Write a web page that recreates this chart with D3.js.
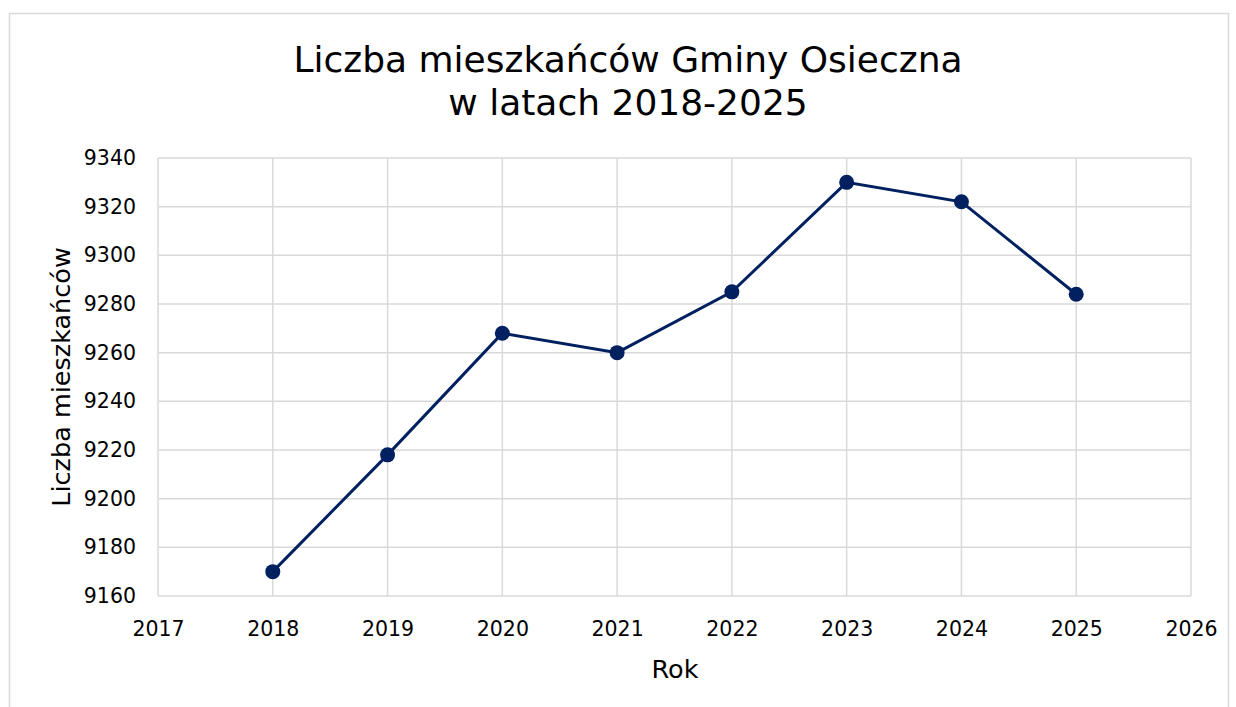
<!DOCTYPE html>
<html>
<head>
<meta charset="utf-8">
<script src="https://cdn.jsdelivr.net/npm/d3@7"></script>
<style>
body{margin:0;background:#fff}
text{font-family:"DejaVu Sans",sans-serif;fill:#000}
</style>
</head>
<body>
<div id="chart"></div>
<script>
var years=[2018,2019,2020,2021,2022,2023,2024,2025]
var people=[9170,9218,9268,9260,9285,9330,9322,9284]
var xTicks=[2017,2018,2019,2020,2021,2022,2023,2024,2025,2026]
var yTicks=[9160,9180,9200,9220,9240,9260,9280,9300,9320,9340]
var titleLines=["Liczba mieszkańców Gminy Osieczna","w latach 2018-2025"]

var width=1236,height=707
var margin={top:158,left:158,right:45,bottom:111}

var svg=d3.select("#chart").append("svg")
	.attr("width",width)
	.attr("height",height)

// ramka wykresu
svg.append("rect")
	.attr("x",9.5).attr("y",13.5)
	.attr("width",1219).attr("height",720)
	.attr("fill","#fff")
	.attr("stroke","#d9d9d9")
	.attr("stroke-width",1.5)

var x=d3.scaleLinear().domain([2017,2026]).range([margin.left,width-margin.right])
var y=d3.scaleLinear().domain([9160,9340]).range([height-margin.bottom,margin.top])

var grid=svg.append("g")
grid.selectAll(".gx").data(xTicks).enter().append("line")
	.attr("x1",function(d){return x(d)}).attr("x2",function(d){return x(d)})
	.attr("y1",y(9160)).attr("y2",y(9340))
	.attr("stroke","#d9d9d9").attr("stroke-width",1.5)
grid.selectAll(".gy").data(yTicks).enter().append("line")
	.attr("x1",x(2017)).attr("x2",x(2026))
	.attr("y1",function(d){return y(d)}).attr("y2",function(d){return y(d)})
	.attr("stroke","#d9d9d9").attr("stroke-width",1.5)

var xAxis=svg.append("g")
	.attr("transform","translate(0,"+y(9160)+")")
	.call(d3.axisBottom(x).tickValues(xTicks).tickFormat(d3.format("d")).tickSize(0).tickPadding(25))
xAxis.select(".domain").remove()
xAxis.selectAll("text").attr("font-size","20.5px").attr("fill","#000")
	.style("font-family","DejaVu Sans")

var yAxis=svg.append("g")
	.attr("transform","translate("+x(2017)+",0)")
	.call(d3.axisLeft(y).tickValues(yTicks).tickFormat(d3.format("d")).tickSize(0).tickPadding(22))
yAxis.select(".domain").remove()
yAxis.selectAll("text").attr("font-size","20.5px").attr("fill","#000")
	.style("font-family","DejaVu Sans")

var line=d3.line()
	.x(function(d,i){return x(years[i])})
	.y(function(d){return y(d)})

svg.append("path")
	.datum(people)
	.attr("d",line)
	.attr("fill","none")
	.attr("stroke","#002060")
	.attr("stroke-width",3)

svg.selectAll(".pt").data(people).enter().append("circle")
	.attr("cx",function(d,i){return x(years[i])})
	.attr("cy",function(d){return y(d)})
	.attr("r",7.5)
	.attr("fill","#002060")

svg.selectAll(".title").data(titleLines).enter().append("text")
	.attr("x",628)
	.attr("y",function(d,i){return 72+i*43})
	.attr("text-anchor","middle")
	.attr("font-size","36px")
	.text(function(d){return d})

svg.append("text")
	.attr("x",675).attr("y",678)
	.attr("text-anchor","middle")
	.attr("font-size","25.5px")
	.text("Rok")

svg.append("text")
	.attr("transform","translate(70,377) rotate(-90)")
	.attr("text-anchor","middle")
	.attr("font-size","25.5px")
	.text("Liczba mieszkańców")
</script>
</body>
</html>
